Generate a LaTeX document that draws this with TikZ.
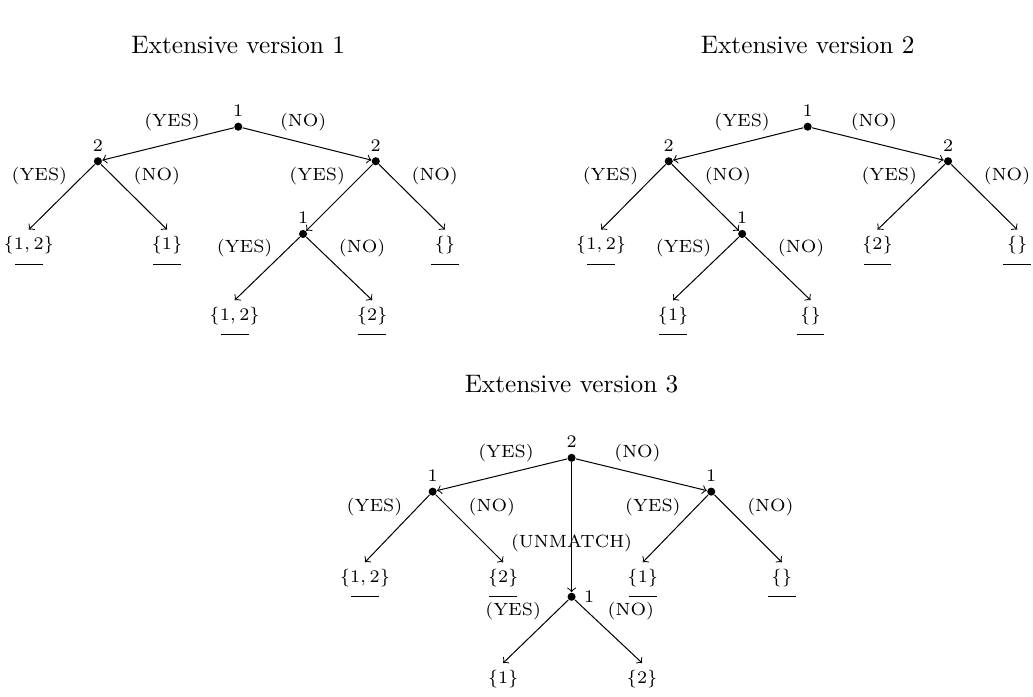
\documentclass[tikz,border=0pt]{standalone}
\usepackage{tikz}
\usetikzlibrary{positioning,arrows}

\begin{document}
\begin{tikzpicture}
	\tikzset{dec/.style={circle,fill,inner sep=0pt,minimum size=3.2pt},
		leaf/.style={anchor=north,font=\scriptsize,inner sep=2.5pt},
		pay/.style={leaf,label={[inner sep=0pt,label distance=0.5pt]below:\rule{11pt}{0.4pt}}},
		every label/.style={font=\scriptsize,inner sep=1pt},
		top/.style={inner sep=1pt,above=3.5pt,pos=.47},
		ly/.style={inner sep=1pt,left=5pt,pos=.18},
		ln/.style={inner sep=1pt,right=7pt,pos=.18}}
	\useasboundingbox (0,0) rectangle (14.35,-9.68);
	% version 1
	\node (h1) at (3.31,-0.63) {Extensive version 1};
	\node[dec,label={[label distance=1pt]above:1}] (t1) at (3.31,-1.76) {};
	\node[dec,label={[label distance=1pt]above:2}] (t1y) at (1.36,-2.24) {};
	\node[dec,label={[label distance=1pt]above:2}] (t1n) at (5.22,-2.24) {};
	\node[dec,label={[label distance=1pt]above:1}] (t1ny) at (4.21,-3.25) {};
	\node[pay] (t1yy) at (0.40,-3.19) {$\{1,2\}$};
	\node[pay] (t1yn) at (2.32,-3.19) {$\{1\}$};
	\node[pay] (t1nn) at (6.18,-3.19) {$\{\}$};
	\node[pay] (t1nyy) at (3.26,-4.17) {$\{1,2\}$};
	\node[pay] (t1nyn) at (5.17,-4.17) {$\{2\}$};
	\path[->,font=\scriptsize]
		(t1) edge node[top] {(YES)} (t1y)
		(t1) edge node[top] {(NO)} (t1n)
		(t1y) edge node[ly] {(YES)} (t1yy.north)
		(t1y) edge node[ln] {(NO)} (t1yn.north)
		(t1n) edge node[ly] {(YES)} (t1ny)
		(t1n) edge node[ln] {(NO)} (t1nn.north)
		(t1ny) edge node[ly] {(YES)} (t1nyy.north)
		(t1ny) edge node[ln] {(NO)} (t1nyn.north);
	% version 2
	\node (h2) at (11.22,-0.63) {Extensive version 2};
	\node[dec,label={[label distance=1pt]above:1}] (t2) at (11.22,-1.76) {};
	\node[dec,label={[label distance=1pt]above:2}] (t2y) at (9.29,-2.24) {};
	\node[dec,label={[label distance=1pt]above:2}] (t2n) at (13.17,-2.24) {};
	\node[dec,label={[label distance=1pt]above:1}] (t2yn) at (10.31,-3.25) {};
	\node[pay] (t2yy) at (8.35,-3.19) {$\{1,2\}$};
	\node[pay] (t2ny) at (12.19,-3.19) {$\{2\}$};
	\node[pay] (t2nn) at (14.13,-3.19) {$\{\}$};
	\node[pay] (t2yny) at (9.35,-4.17) {$\{1\}$};
	\node[pay] (t2ynn) at (11.26,-4.17) {$\{\}$};
	\path[->,font=\scriptsize]
		(t2) edge node[top] {(YES)} (t2y)
		(t2) edge node[top] {(NO)} (t2n)
		(t2y) edge node[ly] {(YES)} (t2yy.north)
		(t2y) edge node[ln] {(NO)} (t2yn)
		(t2n) edge node[ly] {(YES)} (t2ny.north)
		(t2n) edge node[ln] {(NO)} (t2nn.north)
		(t2yn) edge node[ly] {(YES)} (t2yny.north)
		(t2yn) edge node[ln] {(NO)} (t2ynn.north);
	% version 3
	\node (h3) at (7.94,-5.33) {Extensive version 3};
	\node[dec,label={[label distance=1pt]above:2}] (t3) at (7.94,-6.36) {};
	\node[dec,label={[label distance=1pt]above:1}] (t3y) at (6.01,-6.83) {};
	\node[dec,label={[label distance=1pt]above:1}] (t3n) at (9.88,-6.83) {};
	\node[dec,label={[label distance=2pt]right:1}] (t3u) at (7.94,-8.29) {};
	\node[pay] (t3yy) at (5.07,-7.81) {$\{1,2\}$};
	\node[pay] (t3yn) at (6.99,-7.81) {$\{2\}$};
	\node[pay] (t3ny) at (8.93,-7.81) {$\{1\}$};
	\node[pay] (t3nn) at (10.86,-7.81) {$\{\}$};
	\node[leaf] (t3uy) at (6.99,-9.21) {$\{1\}$};
	\node[leaf] (t3un) at (8.92,-9.21) {$\{2\}$};
	\path[->,font=\scriptsize]
		(t3) edge node[top] {(YES)} (t3y)
		(t3) edge node[top] {(NO)} (t3n)
		(t3) edge node[pos=.62] {(UNMATCH)} (t3u)
		(t3y) edge node[ly] {(YES)} (t3yy.north)
		(t3y) edge node[ln] {(NO)} (t3yn.north)
		(t3n) edge node[ly] {(YES)} (t3ny.north)
		(t3n) edge node[ln] {(NO)} (t3nn.north)
		(t3u) edge node[ly] {(YES)} (t3uy.north)
		(t3u) edge node[ln] {(NO)} (t3un.north);
\end{tikzpicture}
\end{document}
